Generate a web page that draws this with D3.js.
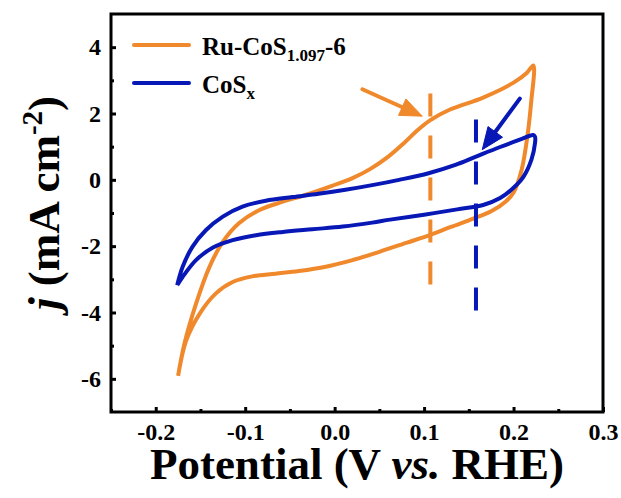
<!DOCTYPE html>
<html>
<head>
<meta charset="utf-8">
<script src="https://cdn.jsdelivr.net/npm/d3@7/dist/d3.min.js"></script>
<style>
  html, body { margin: 0; padding: 0; background: #fff; }
  svg { display: block; }
  text { font-family: "Liberation Serif", "Times New Roman", serif; font-weight: bold; fill: #000; }
</style>
</head>
<body>
<svg id="chart" width="621" height="498"></svg>
<script>
// ---------- data ----------
const xTicks = [-0.2, -0.1, 0.0, 0.1, 0.2, 0.3];
const xTickLabels = ["-0.2", "-0.1", "0.0", "0.1", "0.2", "0.3"];
const yTicks = [-6, -4, -2, 0, 2, 4];
const yTickLabels = ["-6", "-4", "-2", "0", "2", "4"];
const xMinor = [-0.25, -0.15, -0.05, 0.05, 0.15, 0.25];
const yMinor = [-5, -3, -1, 1, 3];

// Ru-CoS1.097-6 CV loop (anodic sweep then cathodic sweep)
const ruPotential = [-0.175, -0.168, -0.155, -0.140, -0.125, -0.107, -0.084, -0.058, -0.032, -0.003, 0.020, 0.040, 0.060, 0.078, 0.092, 0.107, 0.129, 0.166, 0.200, 0.215, 0.222,
  0.223, 0.220, 0.216, 0.209, 0.200, 0.191, 0.175, 0.155, 0.130, 0.107, 0.080, 0.050, 0.020, -0.010, -0.040, -0.066, -0.092, -0.114, -0.133, -0.151, -0.166, -0.175];
const ruCurrent = [-5.91, -4.95, -3.74, -2.63, -1.87, -1.31, -0.91, -0.66, -0.45, -0.18, 0.05, 0.33, 0.70, 1.12, 1.48, 1.80, 2.12, 2.48, 2.93, 3.23, 3.45,
  3.33, 2.42, 1.42, 0.30, -0.38, -0.66, -0.95, -1.17, -1.42, -1.66, -1.90, -2.17, -2.42, -2.62, -2.75, -2.83, -2.91, -3.08, -3.43, -4.04, -4.85, -5.91];

// CoSx CV loop
const cosPotential = [-0.176, -0.170, -0.159, -0.144, -0.125, -0.103, -0.077, -0.047, -0.018, 0.012, 0.042, 0.072, 0.105, 0.135, 0.158, 0.185, 0.207, 0.222, 0.224,
  0.224, 0.220, 0.211, 0.200, 0.185, 0.166, 0.137, 0.100, 0.062, 0.042, 0.009, -0.025, -0.058, -0.088, -0.114, -0.136, -0.155, -0.170, -0.176];
const cosCurrent = [-3.18, -2.63, -2.02, -1.52, -1.11, -0.81, -0.63, -0.52, -0.42, -0.30, -0.16, 0.00, 0.20, 0.45, 0.70, 0.99, 1.21, 1.35, 1.30,
  1.11, 0.61, 0.09, -0.24, -0.55, -0.76, -0.89, -1.05, -1.20, -1.29, -1.41, -1.49, -1.57, -1.67, -1.82, -2.04, -2.42, -2.93, -3.18];

// annotations (data units)
const ruDashed = [0.107, 2.6, -3.6];      // potential, top j, bottom j
const cosDashed = [0.158, 1.82, -4.0];
const ruArrow = [0.031, 2.73, 0.098, 1.92];   // from (v,j) to (v,j)
const cosArrow = [0.207, 2.45, 0.165, 0.91];

const seriesNames = ["Ru-CoS", "CoS"];
const seriesSubs = ["1.097", "x"];
const seriesSuffix = ["-6", ""];
const colors = ["#F0882C", "#0718B6"];

// ---------- layout ----------
const svg = d3.select("#chart");
const L = 111, R = 603, T = 14, B = 412;
const x = d3.scaleLinear().domain([-0.25, 0.3]).range([L, R]);
const y = d3.scaleLinear().domain([-7, 5]).range([B, T]);

// curves
const line = d3.line().x(d => x(d[0])).y(d => y(d[1])).curve(d3.curveCatmullRom.alpha(0.5));
const ruPts = ruPotential.map((v, i) => [v, ruCurrent[i]]);
const cosPts = cosPotential.map((v, i) => [v, cosCurrent[i]]);

svg.append("path").attr("d", line(ruPts)).attr("fill", "none")
  .attr("stroke", colors[0]).attr("stroke-width", 4).attr("stroke-linejoin", "round");
svg.append("path").attr("d", line(cosPts)).attr("fill", "none")
  .attr("stroke", colors[1]).attr("stroke-width", 4).attr("stroke-linejoin", "round");

// dashed lines
[[ruDashed, colors[0]], [cosDashed, colors[1]]].forEach(([d, c]) => {
  svg.append("line").attr("x1", x(d[0])).attr("x2", x(d[0]))
    .attr("y1", y(d[1])).attr("y2", y(d[2]))
    .attr("stroke", c).attr("stroke-width", 4).attr("stroke-dasharray", "23,19");
});

// arrows
function arrow(a, c) {
  const x1 = x(a[0]), y1 = y(a[1]), x2 = x(a[2]), y2 = y(a[3]);
  const ang = Math.atan2(y2 - y1, x2 - x1);
  const hl = 22, hw = 9;
  const bx = x2 - hl * Math.cos(ang), by = y2 - hl * Math.sin(ang);
  svg.append("line").attr("x1", x1).attr("y1", y1).attr("x2", bx + 2 * Math.cos(ang)).attr("y2", by + 2 * Math.sin(ang))
    .attr("stroke", c).attr("stroke-width", 4).attr("stroke-linecap", "round");
  const px = -Math.sin(ang), py = Math.cos(ang);
  svg.append("path").attr("d", `M${x2},${y2}L${bx + hw * px},${by + hw * py}L${bx - hw * px},${by - hw * py}Z`)
    .attr("fill", c).attr("stroke", c).attr("stroke-width", 1).attr("stroke-linejoin", "round");
}
arrow(ruArrow, colors[0]);
arrow(cosArrow, colors[1]);

// axes
const xAxis = d3.axisBottom(x).tickValues(xTicks).tickFormat((d, i) => xTickLabels[i]).tickSize(-5).tickPadding(11);
const gx = svg.append("g").attr("transform", `translate(0,${B})`).call(xAxis);
gx.select(".domain").remove();
gx.selectAll("line").attr("stroke-width", 3);
gx.selectAll("text").style("font-size", "24px").style("font-family", "Liberation Serif").style("font-weight", "bold");

const xAxisMinor = d3.axisBottom(x).tickValues(xMinor).tickFormat("").tickSize(-3);
const gxm = svg.append("g").attr("transform", `translate(0,${B})`).call(xAxisMinor);
gxm.select(".domain").remove();
gxm.selectAll("text").remove();
gxm.selectAll("line").attr("stroke-width", 3);

const yAxis = d3.axisLeft(y).tickValues(yTicks).tickFormat((d, i) => yTickLabels[i]).tickSize(-5).tickPadding(10);
const gy = svg.append("g").attr("transform", `translate(${L},0)`).call(yAxis);
gy.select(".domain").remove();
gy.selectAll("line").attr("stroke-width", 3);
gy.selectAll("text").style("font-size", "24px").style("font-family", "Liberation Serif").style("font-weight", "bold");

const yAxisMinor = d3.axisLeft(y).tickValues(yMinor).tickFormat("").tickSize(-3);
const gym = svg.append("g").attr("transform", `translate(${L},0)`).call(yAxisMinor);
gym.select(".domain").remove();
gym.selectAll("text").remove();
gym.selectAll("line").attr("stroke-width", 3);

// frame
svg.append("rect").attr("x", L).attr("y", T).attr("width", R - L).attr("height", B - T)
  .attr("fill", "none").attr("stroke", "#000").attr("stroke-width", 3);

// axis titles
const xt = svg.append("text").attr("x", (L + R) / 2).attr("y", 479).attr("text-anchor", "middle")
  .style("font-size", "45px");
xt.append("tspan").text("Potential (V ");
xt.append("tspan").style("font-style", "italic").text("vs.");
xt.append("tspan").text(" RHE)");

const yt = svg.append("text").attr("transform", `translate(59,203) rotate(-90)`).attr("text-anchor", "middle")
  .style("font-size", "45px");
yt.append("tspan").style("font-style", "italic").text("j");
yt.append("tspan").text(" (mA cm");
yt.append("tspan").attr("dy", -17).style("font-size", "29px").text("-2");
yt.append("tspan").attr("dy", 17).text(")");

// legend
const legY = [45, 83];
seriesNames.forEach((name, i) => {
  svg.append("line").attr("x1", 134).attr("x2", 189).attr("y1", legY[i]).attr("y2", legY[i])
    .attr("stroke", colors[i]).attr("stroke-width", 4).attr("stroke-linecap", "round");
  const t = svg.append("text").attr("x", 202).attr("y", legY[i] + 10).style("font-size", "25px");
  t.append("tspan").text(name);
  t.append("tspan").attr("dy", 6).style("font-size", "17px").text(seriesSubs[i]);
  if (seriesSuffix[i]) t.append("tspan").attr("dy", -6).text(seriesSuffix[i]);
});
</script>
</body>
</html>
